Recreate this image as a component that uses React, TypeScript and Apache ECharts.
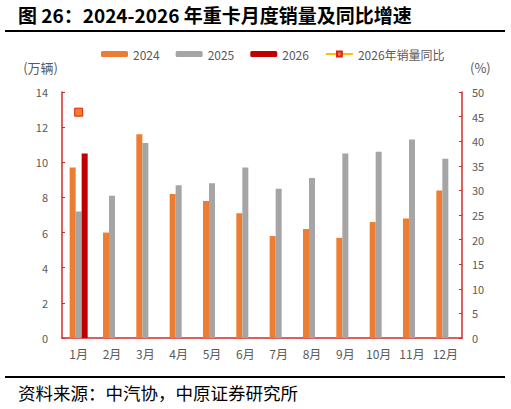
import { useEffect, useRef } from "react";
import * as echarts from "echarts";

const months = ["1月", "2月", "3月", "4月", "5月", "6月", "7月", "8月", "9月", "10月", "11月", "12月"];
const sales2024 = [9.7, 6.0, 11.6, 8.2, 7.8, 7.1, 5.8, 6.2, 5.7, 6.6, 6.8, 8.4];
const sales2025 = [7.2, 8.1, 11.1, 8.7, 8.8, 9.7, 8.5, 9.1, 10.5, 10.6, 11.3, 10.2];
const sales2026 = [10.5, null, null, null, null, null, null, null, null, null, null, null];
const yoy2026 = [45.9, null, null, null, null, null, null, null, null, null, null, null];

const AXIS_RED = "#D42A2A";
const LABEL = "#595959";
const CJK = "'Noto Sans CJK SC', 'Noto Sans', sans-serif";

const App = () => {
    const chartRef = useRef<HTMLDivElement>(null);

    useEffect(() => {
        if (!chartRef.current) return;
        const chart = echarts.init(chartRef.current, undefined, { renderer: "svg" });

        chart.setOption({
            animation: false,
            textStyle: { fontFamily: CJK },
            graphic: [
                {
                    type: "text",
                    left: 18,
                    top: 5,
                    style: {
                        text: "图 26：2024-2026 年重卡月度销量及同比增速",
                        font: `bold 19px ${CJK}`,
                        fill: "#000",
                    },
                },
                {
                    type: "rect",
                    shape: { x: 5, y: 30, width: 500, height: 2 },
                    style: { fill: "#000" },
                },
                {
                    type: "rect",
                    shape: { x: 5, y: 376, width: 500, height: 2 },
                    style: { fill: "#000" },
                },
                {
                    type: "text",
                    left: 18,
                    top: 384,
                    style: {
                        text: "资料来源：中汽协，中原证券研究所",
                        font: `17.5px ${CJK}`,
                        fill: "#000",
                    },
                },
            ],
            legend: {
                top: 43,
                left: 96,
                itemWidth: 27,
                itemHeight: 6,
                itemGap: 16,
                textStyle: { color: LABEL, fontSize: 12 },
                data: ["2024", "2025", "2026", "2026年销量同比"],
            },
            grid: { left: 62, right: 49, top: 92, bottom: 71 },
            xAxis: {
                type: "category",
                data: months,
                axisLine: { lineStyle: { color: AXIS_RED, width: 1.5 } },
                axisTick: { lineStyle: { color: AXIS_RED }, length: 4 },
                axisLabel: { color: LABEL, fontSize: 12, margin: 9 },
            },
            yAxis: [
                {
                    type: "value",
                    min: 0,
                    max: 14,
                    interval: 2,
                    name: "(万辆)",
                    nameGap: 18,
                    nameTextStyle: { color: LABEL, fontSize: 13, align: "right", padding: [0, 4, 0, 0] },
                    axisLine: { show: true, lineStyle: { color: AXIS_RED, width: 1.5 } },
                    axisTick: { show: true, inside: true, length: 3, lineStyle: { color: AXIS_RED } },
                    axisLabel: { color: LABEL, fontSize: 11, margin: 14 },
                    splitLine: { show: false },
                },
                {
                    type: "value",
                    min: 0,
                    max: 50,
                    interval: 5,
                    name: "(%)",
                    nameGap: 18,
                    nameTextStyle: { color: LABEL, fontSize: 13, align: "left", padding: [0, 0, 0, 8] },
                    axisLine: { show: true, lineStyle: { color: AXIS_RED, width: 1.5 } },
                    axisTick: { show: true, inside: true, length: 3, lineStyle: { color: AXIS_RED } },
                    axisLabel: { color: LABEL, fontSize: 11, margin: 10 },
                    splitLine: { show: false },
                },
            ],
            series: [
                {
                    name: "2024",
                    type: "bar",
                    data: sales2024,
                    barWidth: 6,
                    barGap: "0%",
                    itemStyle: { color: "#ED7D31" },
                },
                {
                    name: "2025",
                    type: "bar",
                    data: sales2025,
                    barWidth: 6,
                    barGap: "0%",
                    itemStyle: { color: "#A5A5A5" },
                },
                {
                    name: "2026",
                    type: "bar",
                    data: sales2026,
                    barWidth: 6,
                    barGap: "0%",
                    itemStyle: { color: "#C00000" },
                },
                {
                    name: "2026年销量同比",
                    type: "line",
                    yAxisIndex: 1,
                    data: yoy2026,
                    symbol: "rect",
                    symbolSize: 8,
                    lineStyle: { color: "#FFC000", width: 2.5 },
                    itemStyle: { color: "#F08020", borderColor: "#E02020", borderWidth: 1 },
                },
            ],
        });

        return () => {
            chart.dispose();
        };
    }, []);

    return (
        <div
            ref={chartRef}
            style={{ position: "absolute", left: 0, top: 0, width: "511px", height: "409px", background: "#fff" }}
        />
    );
};

export default App;
